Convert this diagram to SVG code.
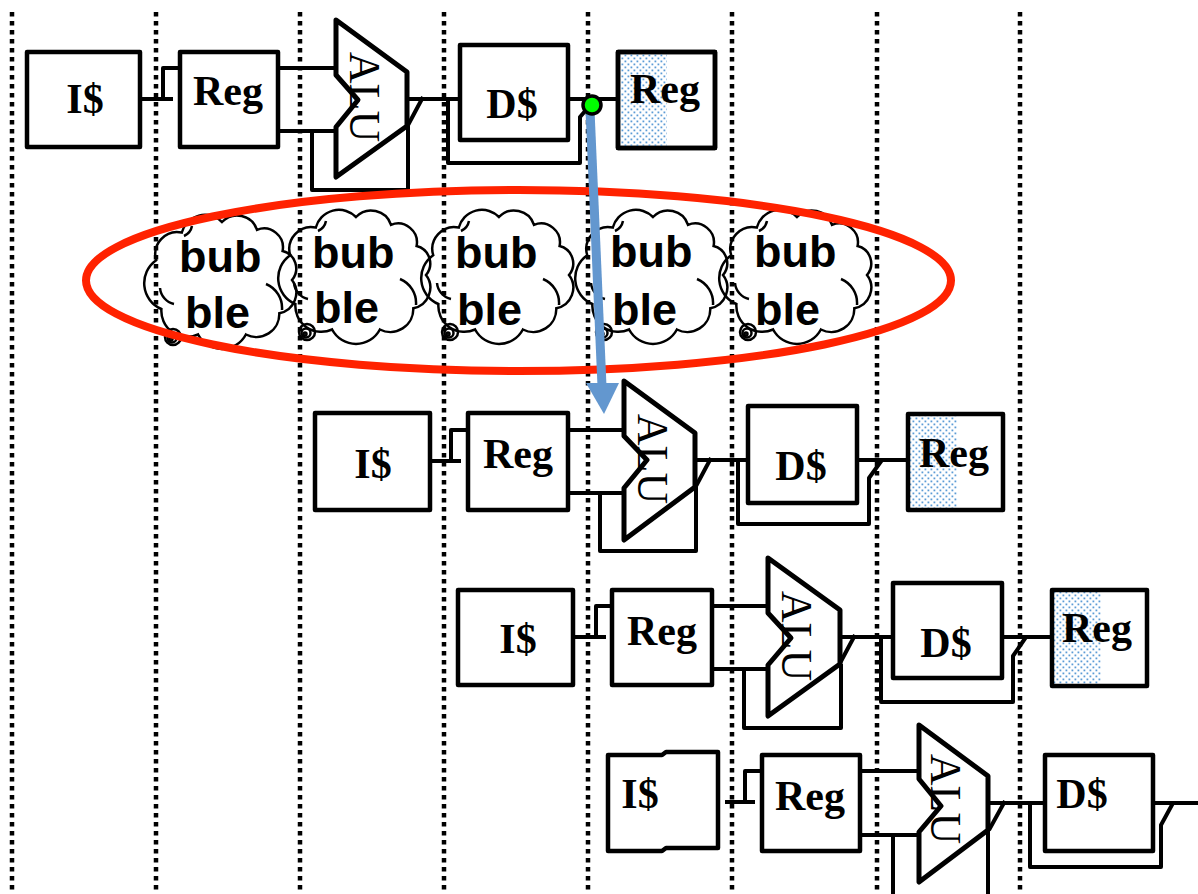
<svg xmlns="http://www.w3.org/2000/svg" width="1198" height="894" viewBox="0 0 1198 894">
<style>
.grid{stroke:#000;stroke-width:4.5;stroke-dasharray:4.5 4.5;fill:none}
.box{fill:#fff;stroke:#000;stroke-width:4.5;stroke-linejoin:round}
.alu{fill:#fff;stroke:#000;stroke-width:5;stroke-linejoin:round}
.wire{fill:none;stroke:#000;stroke-width:4;stroke-linejoin:round}
.lbl{font-family:"Liberation Serif","Times New Roman",serif;font-weight:bold;font-size:42px;text-anchor:middle;fill:#000}
.alut{font-family:"Liberation Serif","Times New Roman",serif;font-size:44px;text-anchor:middle;fill:#000}
.bub{font-family:"Liberation Sans",Arial,sans-serif;font-weight:bold;font-size:45px;fill:#000}
.cloud{fill:none;stroke:#000;stroke-width:2.5}
</style>
<defs>
<pattern id="dots" width="6" height="6" patternUnits="userSpaceOnUse">
<rect x="0.5" y="0.5" width="1.8" height="1.8" fill="#5b9bd5"/>
<rect x="3.5" y="3.5" width="1.8" height="1.8" fill="#5b9bd5"/>
</pattern>
<g id="cloudshape">
<path class="cloud" d="M-65.8,-19.8 A22 22 0 0 1 -40.2,-47.5 A24 24 0 0 1 0,-58 A21 21 0 0 1 35,-50.2 A19 19 0 0 1 60.6,-29 A18 18 0 0 1 70,0 A21 21 0 0 1 57.3,33.3 A23 23 0 0 1 23.9,54.5 A27 27 0 0 1 -23.9,54.5 A26 26 0 0 1 -60.6,29 A28 28 0 0 1 -65.8,-19.8 Z"/>
<path class="cloud" d="M44,4 A26 26 0 0 1 60,30 M-38,-44 A14 14 0 0 0 -30,-54 M-62,8 A18 18 0 0 0 -48,24"/>
<circle class="cloud" cx="-49" cy="57" r="8"/>
<circle class="cloud" cx="-50" cy="58" r="4.5"/>
<circle class="cloud" cx="-51" cy="59" r="1.5"/>
</g>
</defs>

<g id="gridlines">
<line class="grid" x1="12" y1="12" x2="12" y2="894"/>
<line class="grid" x1="156" y1="12" x2="156" y2="894"/>
<line class="grid" x1="300" y1="12" x2="300" y2="894"/>
<line class="grid" x1="444" y1="12" x2="444" y2="894"/>
<line class="grid" x1="588" y1="12" x2="588" y2="894"/>
<line class="grid" x1="732" y1="12" x2="732" y2="894"/>
<line class="grid" x1="877" y1="12" x2="877" y2="894"/>
<line class="grid" x1="1020" y1="12" x2="1020" y2="894"/>
</g>

<g id="connectors">
<!-- row 1 -->
<path class="wire" d="M140,99 H173 M163,99 V68 H180"/>
<path class="wire" d="M278,68 H336 M278,131 H336"/>
<path class="wire" d="M312,131 V190 H408 V126"/>
<path class="wire" d="M407,99 H460 M423,97 L407,127"/>
<path class="wire" d="M460,99 H448 V163 H580 V117 L592,103"/>
<path class="wire" d="M568,99 H618"/>
<!-- row 2 -->
<path class="wire" d="M430,461 H461 M451,461 V430 H468"/>
<path class="wire" d="M568,430 H624 M568,493 H624"/>
<path class="wire" d="M600,493 V551 H696 V487"/>
<path class="wire" d="M695,460 H748 M711,458 L695,488"/>
<path class="wire" d="M748,460 H738 V524 H869 V478 L882,460"/>
<path class="wire" d="M857,460 H908"/>
<!-- row 3 -->
<path class="wire" d="M573,637 H606 M596,637 V606 H612"/>
<path class="wire" d="M712,606 H768 M712,669 H768"/>
<path class="wire" d="M744,669 V728 H841 V664"/>
<path class="wire" d="M839,637 H893 M855,635 L839,665"/>
<path class="wire" d="M893,637 H881 V702 H1013 V656 L1026,637"/>
<path class="wire" d="M1002,637 H1052"/>
<!-- row 4 -->
<path class="wire" d="M725,802 H755 M745,802 V771 H762"/>
<path class="wire" d="M860,771 H919 M860,835 H919"/>
<path class="wire" d="M893,835 V896 M988,830 V896"/>
<path class="wire" d="M988,803 H1045 M1005,801 L989,830"/>
<path class="wire" d="M1045,803 H1030 V867 H1161 V825 L1173,803"/>
<path class="wire" d="M1153,803 H1198"/>
</g>

<g id="row1">
<g id="r1-icache"><rect class="box" x="27" y="52" width="113" height="95"/><text class="lbl" x="85" y="113">I$</text></g>
<g id="r1-reg"><rect class="box" x="180" y="52" width="98" height="95"/><text class="lbl" x="228" y="105">Reg</text></g>
<g id="r1-alu"><polygon class="alu" points="336,20 407,72 407,126 336,177 336,127 358,100 336,75"/><text class="alut" transform="translate(350,97) rotate(90)">ALU</text></g>
<g id="r1-dcache"><rect class="box" x="460" y="45" width="108" height="95"/><text class="lbl" x="512" y="118">D$</text></g>
<g id="r1-wb"><rect class="box" x="618" y="52" width="97" height="96"/><rect x="620" y="54" width="47" height="92" fill="url(#dots)"/><rect x="618" y="52" width="97" height="96" fill="none" stroke="#000" stroke-width="4.5" stroke-linejoin="round"/><text class="lbl" x="665" y="103">Reg</text></g>
</g>

<g id="row2">
<g id="r2-icache"><rect class="box" x="315" y="413" width="115" height="97"/><text class="lbl" x="373" y="478">I$</text></g>
<g id="r2-reg"><rect class="box" x="468" y="413" width="100" height="97"/><text class="lbl" x="518" y="468">Reg</text></g>
<g id="r2-alu"><polygon class="alu" points="624,381 695,433 695,487 624,540 624,488 647,460 624,436"/><text class="alut" transform="translate(638,459) rotate(90)">ALU</text></g>
<g id="r2-dcache"><rect class="box" x="748" y="406" width="109" height="97"/><text class="lbl" x="801" y="480">D$</text></g>
<g id="r2-wb"><rect x="910" y="416" width="47" height="92" fill="url(#dots)"/><rect x="908" y="414" width="95" height="96" fill="none" stroke="#000" stroke-width="4.5" stroke-linejoin="round"/><text class="lbl" x="954" y="467">Reg</text></g>
</g>

<g id="row3">
<g id="r3-icache"><rect class="box" x="458" y="590" width="115" height="95"/><text class="lbl" x="518" y="653">I$</text></g>
<g id="r3-reg"><rect class="box" x="612" y="590" width="100" height="95"/><text class="lbl" x="662" y="645">Reg</text></g>
<g id="r3-alu"><polygon class="alu" points="768,558 840,610 840,664 768,716 768,665 791,638 768,613"/><text class="alut" transform="translate(782,636) rotate(90)">ALU</text></g>
<g id="r3-dcache"><rect class="box" x="893" y="583" width="109" height="95"/><text class="lbl" x="946" y="657">D$</text></g>
<g id="r3-wb"><rect x="1054" y="592" width="47" height="92" fill="url(#dots)"/><rect x="1052" y="590" width="95" height="96" fill="none" stroke="#000" stroke-width="4.5" stroke-linejoin="round"/><text class="lbl" x="1097" y="642">Reg</text></g>
</g>

<g id="row4">
<g id="r4-icache"><path class="box" d="M608,755 H662 L666,752 H718 V848 H666 L662,851 H608 Z"/><text class="lbl" x="640" y="808">I$</text></g>
<g id="r4-reg"><rect class="box" x="762" y="755" width="98" height="96"/><text class="lbl" x="810" y="810">Reg</text></g>
<g id="r4-alu"><polygon class="alu" points="919,725 988,776 988,830 919,882 919,832 941,806 919,779"/><text class="alut" transform="translate(931,799) rotate(90)">ALU</text></g>
<g id="r4-dcache"><rect class="box" x="1045" y="755" width="108" height="96"/><text class="lbl" x="1082" y="808">D$</text></g>
</g>

<g id="bubbles">
<g id="bubble1"><use href="#cloudshape" transform="translate(222,280)"/><text class="bub" x="179" y="272">bub</text><text class="bub" x="185" y="328">ble</text></g>
<g id="bubble2"><use href="#cloudshape" transform="translate(356,275)"/><text class="bub" x="312" y="268">bub</text><text class="bub" x="314" y="323">ble</text></g>
<g id="bubble3"><use href="#cloudshape" transform="translate(499,275)"/><text class="bub" x="455" y="268">bub</text><text class="bub" x="457" y="325">ble</text></g>
<g id="bubble4"><use href="#cloudshape" transform="translate(653,275)"/><text class="bub" x="610" y="267">bub</text><text class="bub" x="612" y="325">ble</text></g>
<g id="bubble5"><use href="#cloudshape" transform="translate(797,275)"/><text class="bub" x="754" y="267">bub</text><text class="bub" x="755" y="325">ble</text></g>
</g>

<g id="stall-ellipse">
<ellipse cx="518.5" cy="280.5" rx="432.5" ry="90.5" fill="none" stroke="#ff2200" stroke-width="8"/>
</g>

<g id="forward-arrow">
<line x1="590" y1="110" x2="602" y2="386" stroke="#6397cf" stroke-width="9"/>
<polygon points="586,383 619,383 604,414" fill="#6397cf"/>
</g>

<g id="forward-point">
<circle cx="592" cy="105" r="9" fill="#00ff00" stroke="#000" stroke-width="3.5"/>
</g>
</svg>
